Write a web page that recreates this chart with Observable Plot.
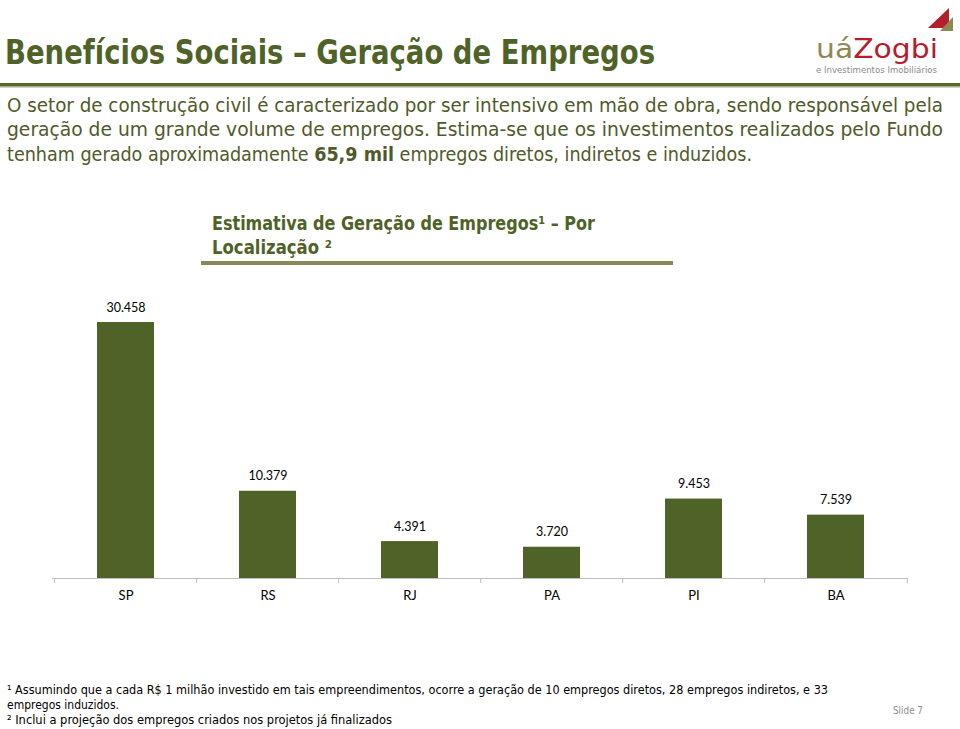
<!DOCTYPE html>
<html><head><meta charset="utf-8">
<script src="https://cdn.jsdelivr.net/npm/d3@7"></script>
<script src="https://cdn.jsdelivr.net/npm/@observablehq/plot@0.6"></script>
<style>
html,body{margin:0;padding:0;background:#fff;}
#page{position:relative;width:960px;height:729px;overflow:hidden;background:#fff;}
#chart{position:absolute;left:0;top:290px;}
#overlay{position:absolute;left:0;top:0;}
</style></head>
<body><div id="page"><div id="chart"></div></div>
<script>
// ---- data ----
const estados = ["SP", "RS", "RJ", "PA", "PI", "BA"];
const empregos = [30458, 10379, 4391, 3720, 9453, 7539];

const titulo = "Benefícios Sociais – Geração de Empregos";
const textoLinhas = [
  "O setor de construção civil é caracterizado por ser intensivo em mão de obra, sendo responsável pela",
  "geração de um grande volume de empregos. Estima-se que os investimentos realizados pelo Fundo"
];
const textoLinha3 = ["tenham gerado aproximadamente ", "65,9 mil", " empregos diretos, indiretos e induzidos."];
const tituloGrafico = ["Estimativa de Geração de Empregos¹ – Por", "Localização ²"];
const notas = [
  "¹ Assumindo que a cada R$ 1 milhão investido em tais empreendimentos, ocorre a geração de 10 empregos diretos, 28 empregos indiretos, e 33",
  "empregos induzidos.",
  "² Inclui a projeção dos empregos criados nos projetos já finalizados"
];
const slide = "Slide 7";

const data = estados.map((e, i) => ({estado: e, valor: empregos[i]}));

// ---- chart ----
const W = 960, H = 320, ML = 52, MR = 52, MT = 32, MB = 32;
const step = (W - ML - MR) / estados.length;
const br = d3.formatLocale({decimal: ",", thousands: ".", grouping: [3], currency: ["R$", ""]});
const fmt = br.format(",d");
const verde = "#4f6228";
const cinza = "#bfbfbf";

const chart = Plot.plot({
  width: W, height: H,
  marginLeft: ML, marginRight: MR, marginTop: MT, marginBottom: MB,
  style: {fontFamily: "Lato, 'Open Sans', sans-serif", fontSize: "13px", color: "#000", background: "transparent"},
  x: {domain: estados, paddingInner: 0.6, paddingOuter: 0.3, label: null},
  y: {domain: [0, d3.max(empregos)], axis: null},
  marks: [
    Plot.barY(data, {x: "estado", y: "valor", fill: verde}),
    Plot.ruleY([0], {stroke: cinza, strokeWidth: 1}),
    Plot.ruleX(estados, {x: d => d, y1: 0, y2: 0, insetBottom: -5, dx: -step / 2, stroke: cinza}),
    Plot.ruleX(estados.slice(-1), {x: d => d, y1: 0, y2: 0, insetBottom: -5, dx: step / 2, stroke: cinza}),
    Plot.text(data, {x: "estado", y: "valor", text: d => fmt(d.valor), dy: -15, fontSize: 12.5, fill: "#000"}),
    Plot.axisX({tickSize: 0, tickPadding: 12, fontSize: 13, label: null, fill: "#000"})
  ]
});
document.getElementById("chart").appendChild(chart);

// ---- slide text (header / footer) ----
const svg = d3.select("#page").append("svg")
  .attr("id", "overlay").attr("width", 960).attr("height", 729)
  .style("font-family", "'DejaVu Sans Condensed', 'DejaVu Sans', sans-serif");

function line(x, y, str, size, fill, len, weight) {
  return svg.append("text").attr("x", x).attr("y", y)
    .attr("font-size", size).attr("fill", fill)
    .attr("font-weight", weight || "normal")
    .attr("textLength", len).attr("lengthAdjust", "spacingAndGlyphs")
    .text(str);
}

// title
line(5, 63.5, titulo, 33, verde, 650, "bold");
svg.append("rect").attr("x", 0).attr("y", 83).attr("width", 960).attr("height", 3).attr("fill", "#56672b");
svg.append("rect").attr("x", 0).attr("y", 86).attr("width", 960).attr("height", 1.5).attr("fill", "#a4ad86");

// logo
svg.append("polygon").attr("points", "928,28 949,8 949,28").attr("fill", "#b3202c");
svg.append("polygon").attr("points", "940,31 953,17 953,31").attr("fill", "#8c8a52");
const logo = svg.append("text").attr("x", 816).attr("y", 58).attr("font-size", 26)
  .style("font-family", "'DejaVu Sans', sans-serif")
  .attr("textLength", 122).attr("lengthAdjust", "spacingAndGlyphs");
logo.append("tspan").attr("fill", "#8c8a52").text("uá");
logo.append("tspan").attr("fill", "#b3202c").text("Zogbi");
line(816, 73, "e Investimentos Imobiliários", 8.5, "#8a8a8a", 121);

// body text
const corTexto = "#4f5a2a";
line(7, 111.5, textoLinhas[0], 19, corTexto, 936);
line(7, 136, textoLinhas[1], 19, corTexto, 936);
const l3 = svg.append("text").attr("x", 7).attr("y", 160.5).attr("font-size", 19).attr("fill", corTexto)
  .attr("textLength", 745).attr("lengthAdjust", "spacingAndGlyphs");
textoLinha3.forEach((t, i) => l3.append("tspan").attr("font-weight", i === 1 ? "bold" : "normal").text(t));

// chart title
line(212, 230, tituloGrafico[0], 19, verde, 383, "bold");
line(212, 253.5, tituloGrafico[1], 19, verde, 120, "bold");
svg.append("rect").attr("x", 201).attr("y", 261).attr("width", 472).attr("height", 4).attr("fill", "#8a8858");

// footnotes
line(7, 693.5, notas[0], 12.5, "#000", 821);
line(7, 708.5, notas[1], 12.5, "#000", 112);
line(7, 723.5, notas[2], 12.5, "#000", 385);
line(893, 714, slide, 11, "#8c8c8c", 30);
</script>
</body></html>
